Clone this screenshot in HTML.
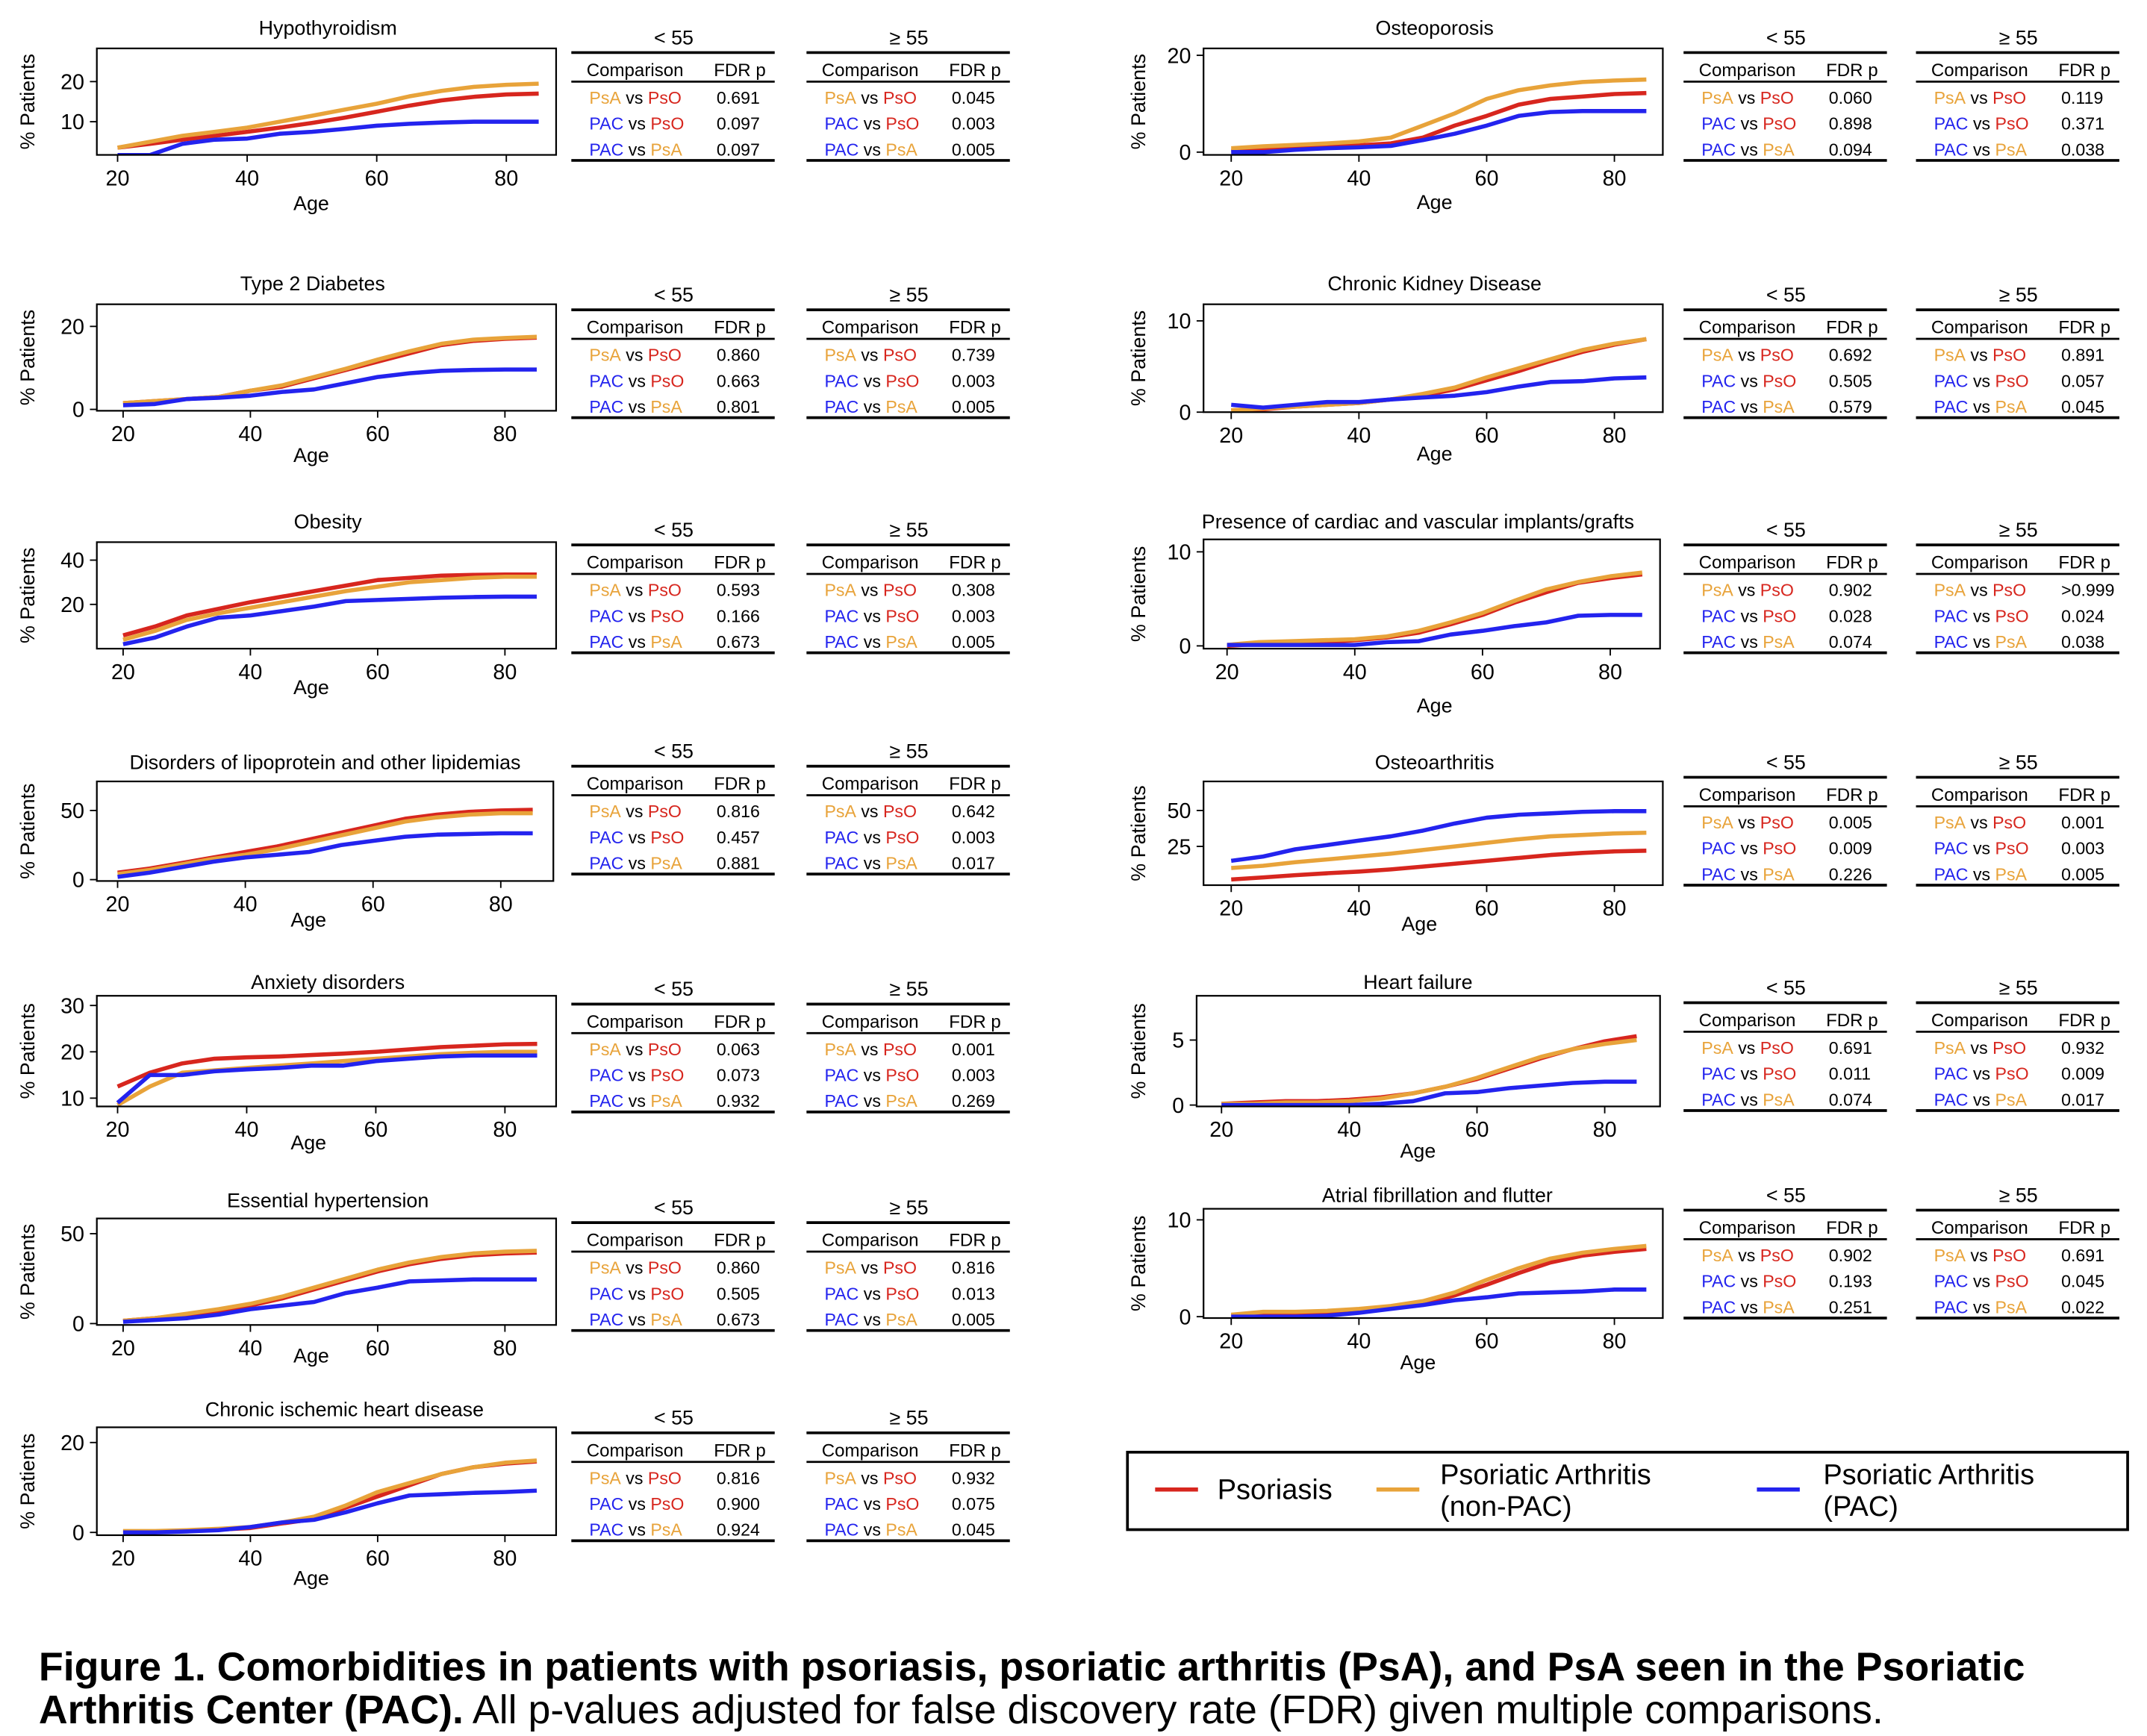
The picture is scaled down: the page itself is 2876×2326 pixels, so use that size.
<!DOCTYPE html>
<html><head><meta charset="utf-8"><style>
html,body{margin:0;padding:0;background:#fff}
svg{display:block}
text{font-family:"Liberation Sans",Arial,sans-serif}
</style></head><body>
<svg id="fig" xmlns="http://www.w3.org/2000/svg" width="2876" height="2326" viewBox="0 0 1552 1255.2">
<rect width="1552" height="1256" fill="#fff"/>
<g id="panels"></g>
<g>
<rect x="815" y="1050" width="723" height="56" fill="#fff" stroke="#000" stroke-width="2"/>
<line x1="835" y1="1077" x2="866" y2="1077" stroke="#d7261e" stroke-width="3"/>
<text x="880" y="1084" font-size="20.5">Psoriasis</text>
<line x1="995" y1="1077" x2="1026" y2="1077" stroke="#e8a33a" stroke-width="3"/>
<text x="1041" y="1073" font-size="20.5">Psoriatic Arthritis</text>
<text x="1041" y="1096" font-size="20.5">(non-PAC)</text>
<line x1="1270" y1="1077" x2="1301" y2="1077" stroke="#2323ee" stroke-width="3"/>
<text x="1318" y="1073" font-size="20.5">Psoriatic Arthritis</text>
<text x="1318" y="1096" font-size="20.5">(PAC)</text>
</g>
<text x="28" y="1215" font-size="29" font-weight="bold">Figure 1. Comorbidities in patients with psoriasis, psoriatic arthritis (PsA), and PsA seen in the Psoriatic</text>
<text x="28" y="1246" font-size="29"><tspan font-weight="bold">Arthritis Center (PAC).</tspan> All p-values adjusted for false discovery rate (FDR) given multiple comparisons.</text>
</svg>
<script>
const ages = [20,25,30,35,40,45,50,55,60,65,70,75,80,85];
const titles = ["Hypothyroidism","Type 2 Diabetes","Obesity","Disorders of lipoprotein and other lipidemias","Anxiety disorders","Essential hypertension","Chronic ischemic heart disease","Osteoporosis","Chronic Kidney Disease","Presence of cardiac and vascular implants/grafts","Osteoarthritis","Heart failure","Atrial fibrillation and flutter"];
const psoSeries = [
[3.5,4.5,5.5,6.5,7.5,8.5,9.7,11,12.5,14,15.3,16.2,16.8,17],
[1.5,2,2.5,3,4.5,5.5,7.5,9.5,11.5,13.5,15.5,16.5,17,17.3],
[6,10,15,18,21,23.5,26,28.5,31,32,33,33.3,33.5,33.5],
[5,8,12,16,20,24,29,34,39,44,47,49,50,50.5],
[12.5,15.5,17.5,18.5,18.8,19,19.3,19.6,20,20.5,21,21.3,21.6,21.7],
[1.5,3,5,7,10,14,19,24,29,33,36,38,39,39.5],
[0.2,0.2,0.4,0.6,1,2,3,5.5,8,10.5,13,14.5,15.3,15.8],
[0.3,0.5,1,1.2,1.4,1.8,3,5.5,7.5,9.8,11,11.5,12,12.2],
[0.2,0.3,0.6,0.8,1,1.4,1.8,2.5,3.5,4.5,5.6,6.6,7.4,8],
[0,0.2,0.3,0.4,0.6,0.9,1.4,2.3,3.3,4.6,5.7,6.7,7.2,7.6],
[2,3.5,5,6.3,7.5,9,11,13,15,17,19,20.5,21.5,22],
[0.1,0.2,0.3,0.3,0.4,0.6,0.9,1.4,2,2.8,3.6,4.3,4.9,5.3],
[0.1,0.2,0.3,0.4,0.6,0.9,1.3,2.2,3.3,4.5,5.6,6.3,6.7,7]];
const psaSeries = [
[3.5,5,6.5,7.5,8.5,10,11.5,13,14.5,16.3,17.7,18.7,19.2,19.5],
[1.5,2,2.5,3,4.5,5.8,7.8,9.8,12,14,15.8,16.8,17.2,17.5],
[4,8,13,16,18.5,21,23.5,26,28,30,31,32,32.5,32.5],
[4,7,11,15,18,22,27,32,37,42,45,47,48,48],
[8.5,12.5,15.5,16,16.5,17,17.5,18,18.5,19,19.5,19.8,20,20],
[1.5,3,5.5,8,11,15,20,25,30,34,37,39,40,40.5],
[0.3,0.3,0.5,0.8,1.2,2.2,3.5,6,9,11,13,14.5,15.5,16],
[0.8,1.2,1.5,1.8,2.2,3,5.5,8,11,12.8,13.8,14.5,14.8,15],
[0.2,0.4,0.6,0.8,1,1.4,2,2.7,3.8,4.8,5.8,6.8,7.5,8],
[0.1,0.4,0.5,0.6,0.7,1,1.6,2.5,3.5,4.8,6,6.8,7.4,7.8],
[10,11.5,14,16,18,20,22.5,25,27.5,30,32,33,34,34.5],
[0.1,0.1,0.2,0.2,0.3,0.5,0.9,1.4,2.1,2.9,3.7,4.3,4.7,5],
[0.2,0.5,0.5,0.6,0.8,1.1,1.6,2.5,3.8,5,6,6.6,7,7.3]];
const pacSeries = [
[1.7,1.7,4.5,5.5,5.8,7,7.5,8.2,9,9.5,9.8,10,10,10],
[1,1.3,2.5,2.8,3.3,4.2,4.8,6.3,7.8,8.7,9.3,9.5,9.6,9.6],
[2,5,10,14,15,17,19,21.5,22,22.5,23,23.3,23.5,23.5],
[2,5,9,13,16,18,20,25,28,31,32.5,33,33.5,33.5],
[9,15,15,15.8,16.2,16.5,17,17,18,18.5,19,19.2,19.2,19.2],
[1,2,3,5,8,10,12,17,20,23.5,24,24.5,24.5,24.5],
[0,0,0.2,0.5,1.2,2.2,2.8,4.5,6.5,8.2,8.5,8.8,9,9.3],
[0,0,0.5,0.8,1,1.3,2.5,3.8,5.5,7.5,8.3,8.5,8.5,8.5],
[0.8,0.5,0.8,1.1,1.1,1.4,1.6,1.8,2.2,2.8,3.3,3.4,3.7,3.8],
[0.1,0.1,0.1,0.1,0.1,0.4,0.5,1.2,1.6,2.1,2.5,3.2,3.3,3.3],
[15,18,23,26,29,32,36,41,45,47,48,49,49.5,49.5],
[0,0,0,0,0,0.1,0.3,0.9,1,1.3,1.5,1.7,1.8,1.8],
[0,0,0,0.1,0.4,0.8,1.2,1.7,2,2.4,2.5,2.6,2.8,2.8]];
const yTicks = [[10,20],[0,20],[20,40],[0,50],[10,20,30],[0,50],[0,20],[0,20],[0,10],[0,10],[25,50],[0,5],[0,10]];
const xTicks = [20,40,60,80];
const pLt = [["0.691","0.097","0.097"],["0.860","0.663","0.801"],["0.593","0.166","0.673"],["0.816","0.457","0.881"],["0.063","0.073","0.932"],["0.860","0.505","0.673"],["0.816","0.900","0.924"],["0.060","0.898","0.094"],["0.692","0.505","0.579"],["0.902","0.028","0.074"],["0.005","0.009","0.226"],["0.691","0.011","0.074"],["0.902","0.193","0.251"]];
const pGe = [["0.045","0.003","0.005"],["0.739","0.003","0.005"],["0.308","0.003","0.005"],["0.642","0.003","0.017"],["0.001","0.003","0.269"],["0.816","0.013","0.005"],["0.932","0.075","0.045"],["0.119","0.371","0.038"],["0.891","0.057","0.045"],[">0.999","0.024","0.038"],["0.001","0.003","0.005"],["0.932","0.009","0.017"],["0.691","0.045","0.022"]];

const L = [
[70,402,35,112,85,366,20,59,10,88,20,237,225,147,27],
[70,402,220,297,89,365,20,236,0,296,205,226,225,329,213],
[70,402,392,469,89,365,40,405,20,437,377,237,225,497,383],
[70,400,565,637,85,362,50,586,0,636,551,235,223,665,543],
[70,402,720,800,85,365,30,727,10,794,710,237,223,826,715],
[70,402,881,958,89,365,50,892,0,957,868,237,225,980,873],
[70,402,1032,1110,89,365,20,1043,0,1108,1019,249,225,1141,1025],
[870,1202,35,112,890,1167,20,40,0,110,20,1037,1037,146,27],
[870,1202,220,298,890,1167,10,232,0,298,205,1037,1037,328,213],
[870,1200,390,469,887,1164,10,399,0,467,377,1025,1037,510,383],
[870,1202,565,640,890,1167,50,586,25,612,551,1037,1026,668,551],
[865,1200,720,800,883,1160,5,752,0,799,710,1025,1025,832,714],
[870,1202,874,953,890,1167,10,882,0,952,864,1039,1025,985,864]];

const NS="http://www.w3.org/2000/svg";
const root=document.getElementById('panels');
function el(tag,attrs,parent,txt){const e=document.createElementNS(NS,tag);for(const k in attrs)e.setAttribute(k,attrs[k]);if(txt!==undefined)e.textContent=txt;parent.appendChild(e);return e;}
const COL={PsO:"#d7261e",PsA:"#e8a33a",PAC:"#2323ee"};

titles.forEach((t,i)=>{
  const [x0,x1,y0,y1,xa,xb,v1,p1,v2,p2,ty,tx,ax,ay,T]=L[i];
  const g=el('g',{},root);
  
  
  const X=a=>xa+(a-20)*(xb-xa)/60;
  const Y=v=>p1+(v-v1)*(p2-p1)/(v2-v1);
  const tt=el('text',{x:tx,y:ty+5,'font-size':14.5,'text-anchor':'middle'},g,t);
  
  
  const cp=el('clipPath',{id:'c'+i},g);el('rect',{x:x0,y:y0,width:x1-x0,height:y1-y0},cp);
  const lg=el('g',{'clip-path':'url(#c'+i+')'},g);
  [[psoSeries,COL.PsO,'line-psoriasis'],[psaSeries,COL.PsA,'line-psa-nonpac'],[pacSeries,COL.PAC,'line-psa-pac']].forEach(([s,c,n])=>{
    const d=s[i].map((v,k)=>(k?'L':'M')+X(ages[k]).toFixed(1)+','+Y(v).toFixed(1)).join('');
    const p=el('path',{d:d,fill:'none',stroke:c,'stroke-width':3,'stroke-linejoin':'round'},lg);
    
    
  });
  el('rect',{x:x0,y:y0,width:x1-x0,height:y1-y0,fill:'none',stroke:'#000','stroke-width':1.2},g);
  xTicks.forEach(a=>{el('line',{x1:X(a),x2:X(a),y1:y1,y2:y1+5,stroke:'#000','stroke-width':1},g);
    const l=el('text',{x:X(a),y:y1+22,'font-size':15.5,'text-anchor':'middle'},g,a);
    
    });
  yTicks[i].forEach(v=>{el('line',{x1:x0-5,x2:x0,y1:Y(v),y2:Y(v),stroke:'#000','stroke-width':1},g);
    const l=el('text',{x:x0-9,y:Y(v)+5.5,'font-size':15.5,'text-anchor':'end'},g,v);
    
    });
  const xl=el('text',{x:ax,y:ay+5,'font-size':14.5,'text-anchor':'middle'},g,'Age');
  
  
  const lx=x0<500?20:823, cy=(y0+y1)/2;
  const yl=el('text',{x:lx,y:cy,'font-size':14.5,'text-anchor':'middle',transform:`rotate(-90 ${lx} ${cy})`,'dominant-baseline':'central'},g,'% Patients');
  
  
  const tabs = x0<500?[[413,'< 55',pLt],[583,'≥ 55',pGe]]:[[1217,'< 55',pLt],[1385,'≥ 55',pGe]];
  tabs.forEach(([tx0,hd,pv])=>{
    const tg=el('g',{},g);
    
    
    el('text',{x:tx0+74,y:T+5,'font-size':14.5,'text-anchor':'middle'},tg,hd);
    el('line',{x1:tx0,x2:tx0+147,y1:T+11,y2:T+11,stroke:'#000','stroke-width':2},tg);
    el('text',{x:tx0+11,y:T+28,'font-size':13},tg,'Comparison');
    el('text',{x:tx0+103,y:T+28,'font-size':13},tg,'FDR p');
    el('line',{x1:tx0,x2:tx0+147,y1:T+32,y2:T+32,stroke:'#000','stroke-width':1.5},tg);
    const rows=[['PsA','PsO'],['PAC','PsO'],['PAC','PsA']];
    rows.forEach((r,k)=>{
      const yy=T+48+k*18.7;
      const tx=el('text',{x:tx0+13,y:yy,'font-size':12.5},tg);
      el('tspan',{fill:COL[r[0]]},tx,r[0]);el('tspan',{fill:'#000'},tx,' vs ');el('tspan',{fill:COL[r[1]]},tx,r[1]);
      el('text',{x:tx0+105,y:yy,'font-size':12.5},tg,pv[i][k]);
    });
    el('line',{x1:tx0,x2:tx0+147,y1:T+89,y2:T+89,stroke:'#000','stroke-width':2},tg);
  });
});
</script>
</body></html>
